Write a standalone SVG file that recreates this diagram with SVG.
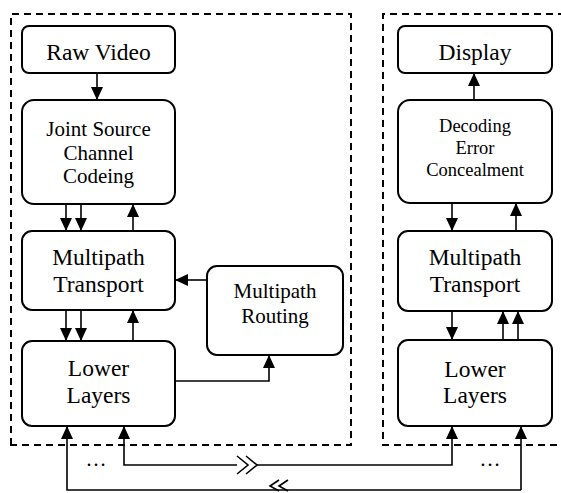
<svg xmlns="http://www.w3.org/2000/svg" width="561" height="493" viewBox="0 0 561 493">
  <style>
    .box { fill: #fff; stroke: #000; stroke-width: 2; }
    .frame { fill: none; stroke: #000; stroke-width: 2; stroke-dasharray: 7 5; }
    text { font-family: 'Liberation Serif', 'Times New Roman', Times, serif; fill: #000; text-anchor: middle; }
    .big { font-size: 23.5px; }
    .mid { font-size: 21px; }
    .small { font-size: 18.5px; }
    .wire { fill: none; stroke: #000; stroke-width: 1.6; }
    .brk { fill: none; stroke: #000; stroke-width: 1.6; stroke-linejoin: miter; }
  </style>
  <defs>
    <marker id="ah" viewBox="0 0 13 12" refX="13" refY="6" markerWidth="13" markerHeight="12" markerUnits="userSpaceOnUse" orient="auto">
      <path d="M0,0 L13,6 L0,12 Z" fill="#000"/>
    </marker>
  </defs>

  <!-- sender / receiver frames -->
  <g id="sender-frame">
    <path class="frame" d="M11,445 L11,14 L351,14 L351,445 Z"/>
  </g>
  <g id="receiver-frame">
    <path class="frame" d="M565,14 L383,14 L383,445 L565,445"/>
  </g>

  <!-- sender stack -->
  <g id="raw-video">
    <rect class="box" x="22" y="26" width="153" height="47" rx="7"/>
    <text class="big" x="98.5" y="60">Raw Video</text>
  </g>
  <g id="jscc">
    <rect class="box" x="22" y="100" width="153" height="104" rx="12"/>
    <text class="mid" x="98.5" y="136">Joint Source</text>
    <text class="mid" x="98.5" y="160">Channel</text>
    <text class="mid" x="98.5" y="183">Codeing</text>
  </g>
  <g id="transport-tx">
    <rect class="box" x="22" y="231" width="153" height="79" rx="10"/>
    <text class="big" x="98.5" y="265">Multipath</text>
    <text class="big" x="98.5" y="292">Transport</text>
  </g>
  <g id="lower-tx">
    <rect class="box" x="22" y="341" width="153" height="85" rx="10"/>
    <text class="big" x="98.5" y="376">Lower</text>
    <text class="big" x="98.5" y="403">Layers</text>
  </g>
  <g id="routing">
    <rect class="box" x="207" y="266" width="136" height="89" rx="10"/>
    <text class="mid" x="275" y="298">Multipath</text>
    <text class="mid" x="275" y="323">Routing</text>
  </g>

  <!-- receiver stack -->
  <g id="display">
    <rect class="box" x="398" y="26" width="154" height="47" rx="7"/>
    <text class="big" x="475" y="60">Display</text>
  </g>
  <g id="decoding">
    <rect class="box" x="398" y="100" width="154" height="103" rx="12"/>
    <text class="small" x="475" y="132">Decoding</text>
    <text class="small" x="475" y="154">Error</text>
    <text class="small" x="475" y="176">Concealment</text>
  </g>
  <g id="transport-rx">
    <rect class="box" x="398" y="231" width="154" height="80" rx="10"/>
    <text class="big" x="475" y="265">Multipath</text>
    <text class="big" x="475" y="292">Transport</text>
  </g>
  <g id="lower-rx">
    <rect class="box" x="398" y="340" width="154" height="86" rx="10"/>
    <text class="big" x="475" y="377">Lower</text>
    <text class="big" x="475" y="403">Layers</text>
  </g>

  <!-- connectors -->
  <g id="connectors">
    <!-- sender side -->
    <path class="wire" marker-end="url(#ah)" d="M97,73 L97,100"/>
    <path class="wire" marker-end="url(#ah)" d="M66,204 L66,231"/>
    <path class="wire" marker-end="url(#ah)" d="M81,204 L81,231"/>
    <path class="wire" marker-end="url(#ah)" d="M133,231 L133,204"/>
    <path class="wire" marker-end="url(#ah)" d="M66,310 L66,341"/>
    <path class="wire" marker-end="url(#ah)" d="M81,310 L81,341"/>
    <path class="wire" marker-end="url(#ah)" d="M133,341 L133,310"/>
    <path class="wire" marker-end="url(#ah)" d="M207,280 L175,280"/>
    <path class="wire" marker-end="url(#ah)" d="M175,381 L269,381 L269,355"/>

    <!-- receiver side -->
    <path class="wire" marker-end="url(#ah)" d="M474,100 L474,73"/>
    <path class="wire" marker-end="url(#ah)" d="M452,203 L452,231"/>
    <path class="wire" marker-end="url(#ah)" d="M516,231 L516,203"/>
    <path class="wire" marker-end="url(#ah)" d="M452,311 L452,340"/>
    <path class="wire" marker-end="url(#ah)" d="M503,340 L503,311"/>
    <path class="wire" marker-end="url(#ah)" d="M518,340 L518,311"/>

    <!-- links between the two lower layers, with line-break marks -->
    <path class="wire" marker-end="url(#ah)" d="M237,465 L124,465 L124,426"/>
    <path class="wire" marker-end="url(#ah)" d="M257,465 L452,465 L452,426"/>
    <path class="brk" d="M237,456 L248,465 L237,474 M246,456 L257,465 L246,474"/>

    <path class="wire" stroke-width="2.2" marker-end="url(#ah)" d="M521,490 L67,490 L67,426"/>
    <path class="brk" d="M279,480 L270,486 L279,491 M288,480 L279,486 L288,491"/>
    <path class="wire" stroke-width="2.2" marker-end="url(#ah)" d="M521,490 L521,426"/>
  </g>

  <!-- ellipses for further links -->
  <text class="mid" x="96" y="466">…</text>
  <text class="mid" x="490" y="466">…</text>
</svg>
